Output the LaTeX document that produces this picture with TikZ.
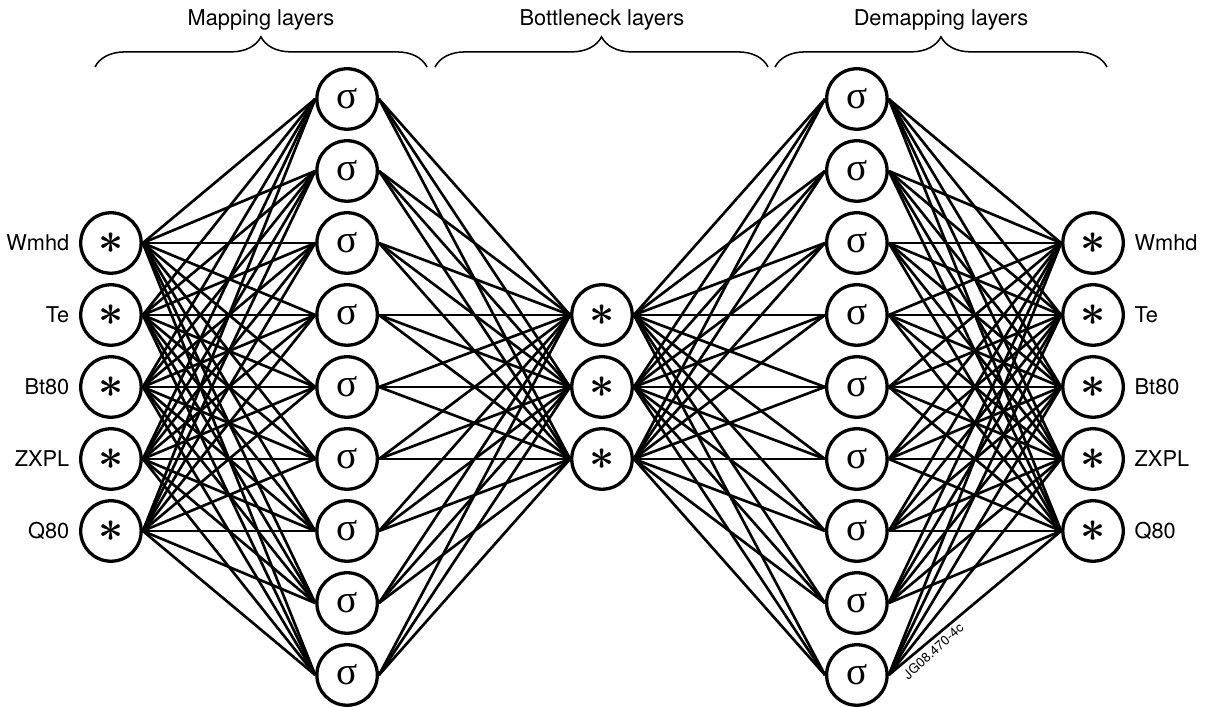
\documentclass[tikz,border=0pt]{standalone}
\usepackage{fontspec}
\setmainfont{TeX Gyre Heros}
\newfontfamily\greekfont{Liberation Serif}
\usetikzlibrary{positioning}
\usetikzlibrary{decorations.pathreplacing}

\newcommand{\sigmark}{{\greekfont\fontsize{15.5}{15}\selectfont σ}}
\newcommand{\astmark}{{\fontsize{18}{17}\selectfont\boldmath$\ast$}}

\tikzset{
  unit/.style={circle, draw, line width=1.3pt, minimum size=0.84cm, inner sep=0pt, fill=white},
  layerbrace/.style={decorate, decoration={brace, amplitude=0.42cm}, line width=0.6pt},
}

\begin{document}
\begin{tikzpicture}[line width=1.05pt, font=\fontsize{8.6}{10}\selectfont]

            \useasboundingbox (-8.361,-0.444) rectangle (8.389,9.375);

            % input layer
            \path   (-6.82,6) node (i1) [unit] {\astmark}
                    (-6.82,5) node (i2) [unit] {\astmark}
                    (-6.82,4) node (i3) [unit] {\astmark}
                    (-6.82,3) node (i4) [unit] {\astmark}
                    (-6.82,2) node (i5) [unit] {\astmark};

            % mapping layer
            \path   (-3.54,8) node (h1) [unit] {\sigmark}
                    (-3.54,7) node (h2) [unit] {\sigmark}
                    (-3.54,6) node (h3) [unit] {\sigmark}
                    (-3.54,5) node (h4) [unit] {\sigmark}
                    (-3.54,4) node (h5) [unit] {\sigmark}
                    (-3.54,3) node (h6) [unit] {\sigmark}
                    (-3.54,2) node (h7) [unit] {\sigmark}
                    (-3.54,1) node (h8) [unit] {\sigmark}
                    (-3.54,0) node (h9) [unit] {\sigmark};

            % bottleneck
            \path   (0,5) node (b1) [unit] {\astmark}
                    (0,4) node (b2) [unit] {\astmark}
                    (0,3) node (b3) [unit] {\astmark};

            % demapping layer
            \path   (3.54,8) node (d1) [unit] {\sigmark}
                    (3.54,7) node (d2) [unit] {\sigmark}
                    (3.54,6) node (d3) [unit] {\sigmark}
                    (3.54,5) node (d4) [unit] {\sigmark}
                    (3.54,4) node (d5) [unit] {\sigmark}
                    (3.54,3) node (d6) [unit] {\sigmark}
                    (3.54,2) node (d7) [unit] {\sigmark}
                    (3.54,1) node (d8) [unit] {\sigmark}
                    (3.54,0) node (d9) [unit] {\sigmark};

            % output layer
            \path   (6.82,6) node (o1) [unit] {\astmark}
                    (6.82,5) node (o2) [unit] {\astmark}
                    (6.82,4) node (o3) [unit] {\astmark}
                    (6.82,3) node (o4) [unit] {\astmark}
                    (6.82,2) node (o5) [unit] {\astmark};

            \foreach \s in {1,...,5}
                \foreach \t in {1,...,9}
                    \draw (i\s.east) -- (h\t.west);
            \foreach \s in {1,...,9}
                \foreach \t in {1,...,3}
                    \draw (h\s.east) -- (b\t.west);
            \foreach \s in {1,...,3}
                \foreach \t in {1,...,9}
                    \draw (b\s.east) -- (d\t.west);
            \foreach \s in {1,...,9}
                \foreach \t in {1,...,5}
                    \draw (d\s.east) -- (o\t.west);

            \node (li1) [left=0cm of i1] {Wmhd};
            \node (li2) [left=0cm of i2] {Te};
            \node (li3) [left=0cm of i3] {Bt80};
            \node (li4) [left=0cm of i4] {ZXPL};
            \node (li5) [left=0cm of i5] {Q80};

            \node (lo1) [right=0cm of o1] {Wmhd};
            \node (lo2) [right=0cm of o2] {Te};
            \node (lo3) [right=0cm of o3] {Bt80};
            \node (lo4) [right=0cm of o4] {ZXPL};
            \node (lo5) [right=0cm of o5] {Q80};

            \draw [layerbrace] (-7.042,8.444) -- (-2.431,8.444);
            \draw [layerbrace] (-2.319,8.444) -- (2.306,8.444);
            \draw [layerbrace] (2.403,8.444) -- (7.014,8.444);

            \node (map) at (-4.736,9.097) {Mapping layers};
            \node (neck) at (0,9.097) {Bottleneck layers};
            \node (demap) at (4.708,9.097) {Demapping layers};

            \node (tag) [rotate=42, inner sep=0pt, font=\fontsize{5.2}{5}\selectfont] at (4.6,0.33) {JG08.470-4c};

\end{tikzpicture}
\end{document}
